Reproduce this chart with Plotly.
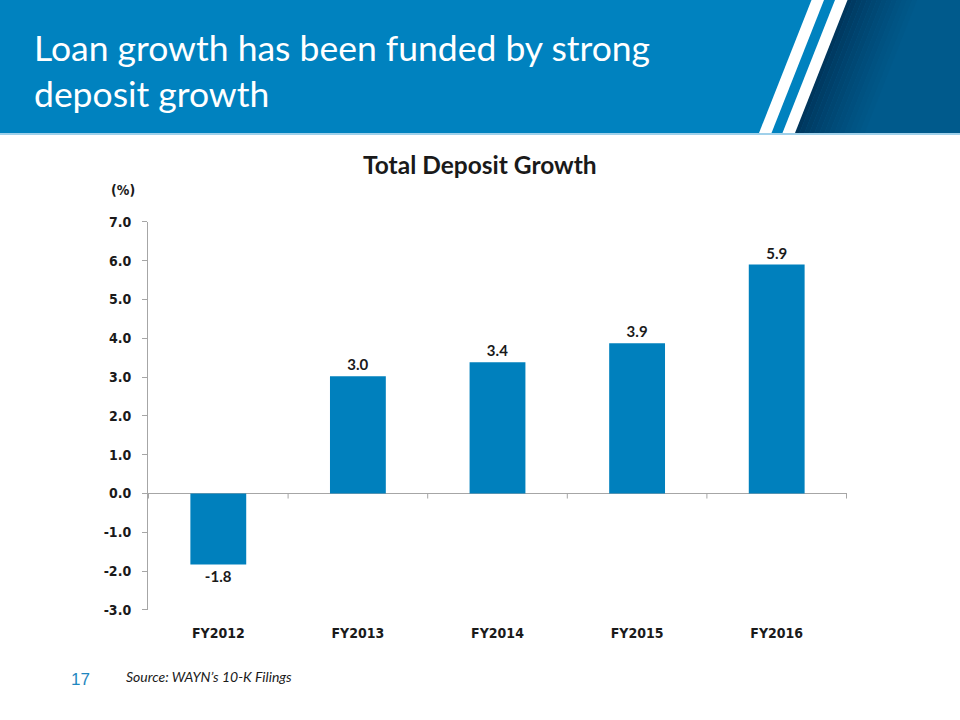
import plotly.graph_objects as go

# ---- data ----
categories = ["FY2012", "FY2013", "FY2014", "FY2015", "FY2016"]
growth_pct = [-1.83, 3.02, 3.38, 3.87, 5.9]
label_vals = [-1.8, 3.0, 3.4, 3.9, 5.9]
y_ticks = [-3, -2, -1, 0, 1, 2, 3, 4, 5, 6, 7]

W, H = 960, 720
# the page is photographed with an 8px top offset and ~0.978 vertical scale;
# compensate so that target screen pixels land where intended
OFF, SC = 8.0, 0.978
def px(x):
    return x / W
def py(y):
    return 1 - ((y - OFF) / SC) / H

BLUE = "#0082BF"
BAR = "#0080BD"
AXFONT = dict(family="DejaVu Sans Condensed, DejaVu Sans", size=14, color="#1a1a1a", weight="bold")

fig = go.Figure()
fig.add_trace(go.Bar(
    x=categories, y=growth_pct,
    marker=dict(color=BAR, line=dict(width=0)),
    width=0.4,
    text=[f"{v:.1f}" for v in label_vals],
    textposition="outside",
    textfont=dict(family="Lato", size=15, color="#1a1a1a", weight="bold"),
    cliponaxis=False,
    hoverinfo="skip",
))

shapes = []
shapes.append(dict(type="rect", xref="paper", yref="paper", x0=0, x1=1, y0=py(133), y1=1.05,
                   fillcolor=BLUE, line=dict(width=0), layer="below"))
shapes.append(dict(type="rect", xref="paper", yref="paper", x0=0, x1=1, y0=py(135), y1=py(133),
                   fillcolor="#9fd0ea", line=dict(width=0), layer="below"))

def poly(points, color):
    p = "M " + " L ".join(f"{px(a):.5f},{py(b):.5f}" for a, b in points) + " Z"
    return dict(type="path", xref="paper", yref="paper", path=p,
                fillcolor=color, line=dict(width=0), layer="below")

def lerp(c1, c2, t):
    a = [int(c1[i:i+2], 16) for i in (1, 3, 5)]
    b = [int(c2[i:i+2], 16) for i in (1, 3, 5)]
    return "#" + "".join(f"{int(round(a[k] + (b[k]-a[k])*t)):02x}" for k in range(3))

# stripes geometry (screen px): top edge y=0, bottom y=133
def sx(x_top, y):
    return x_top - 52.5 * y / 133.0

def band(xa, xb, color):
    return poly([(sx(xa, 0), 0), (sx(xb, 0), 0), (sx(xb, 133), 133), (sx(xa, 133), 133)], color)

shapes.append(poly([(847, 0), (960, 0), (960, 133), (sx(847, 133), 133)], "#005a8c"))
N = 14
for i in range(N):
    t = i / N
    col = lerp("#00365c", "#005a8c", t ** 0.8)
    shapes.append(band(847 + i * 5, 847 + (i + 1) * 5, col))

shapes.append(band(811.5, 824, "white"))
shapes.append(band(835, 847.5, "white"))

for i in range(len(categories) + 1):
    shapes.append(dict(type="line", xref="x", yref="y", x0=i - 0.5, x1=i - 0.5,
                       y0=0, y1=-0.13, line=dict(color="#a6a6a6", width=1)))

annotations = [
    dict(text="Loan growth has been funded by strong<br>deposit growth", xref="paper", yref="paper",
         x=px(32), y=py(71), xanchor="left", yanchor="middle", align="left", showarrow=False,
         font=dict(family="Lato", size=35.5, color="white")),
    dict(text="<b>Total Deposit Growth</b>", xref="paper", yref="paper",
         x=px(480), y=py(165), xanchor="center", yanchor="middle", showarrow=False,
         font=dict(family="Lato", size=24.5, color="#1a1a1a")),
    dict(text="<b>(%)</b>", xref="paper", yref="paper",
         x=px(123), y=py(190), xanchor="center", yanchor="middle", showarrow=False,
         font=AXFONT),
    dict(text="17", xref="paper", yref="paper",
         x=px(80), y=py(680), xanchor="center", yanchor="middle", showarrow=False,
         font=dict(family="Liberation Sans", size=17, color="#1f87c0")),
    dict(text="<i>Source: WAYN\u2019s 10-K Filings</i>", xref="paper", yref="paper",
         x=px(124), y=py(677), xanchor="left", yanchor="middle", showarrow=False,
         font=dict(family="Lato", size=14, color="#1a1a1a")),
]

fig.update_layout(
    width=W, height=H,
    margin=dict(l=0, r=0, t=0, b=0),
    paper_bgcolor="white", plot_bgcolor="white",
    showlegend=False,
    shapes=shapes, annotations=annotations,
    xaxis=dict(domain=[px(148), px(847)], showline=False, ticks="", showgrid=False,
               zeroline=False, ticklabelstandoff=13, tickfont=AXFONT),
    yaxis=dict(domain=[py(610), py(222)], range=[-3, 7], tickvals=y_ticks,
               ticktext=[f"{v:.1f}" for v in y_ticks],
               showline=True, linecolor="#a6a6a6", linewidth=1,
               ticks="outside", ticklen=5, tickcolor="#a6a6a6",
               showgrid=False, zeroline=True, zerolinecolor="#a6a6a6", zerolinewidth=1,
               ticklabelstandoff=8, tickfont=AXFONT),
)

fig.write_html("out.html")
